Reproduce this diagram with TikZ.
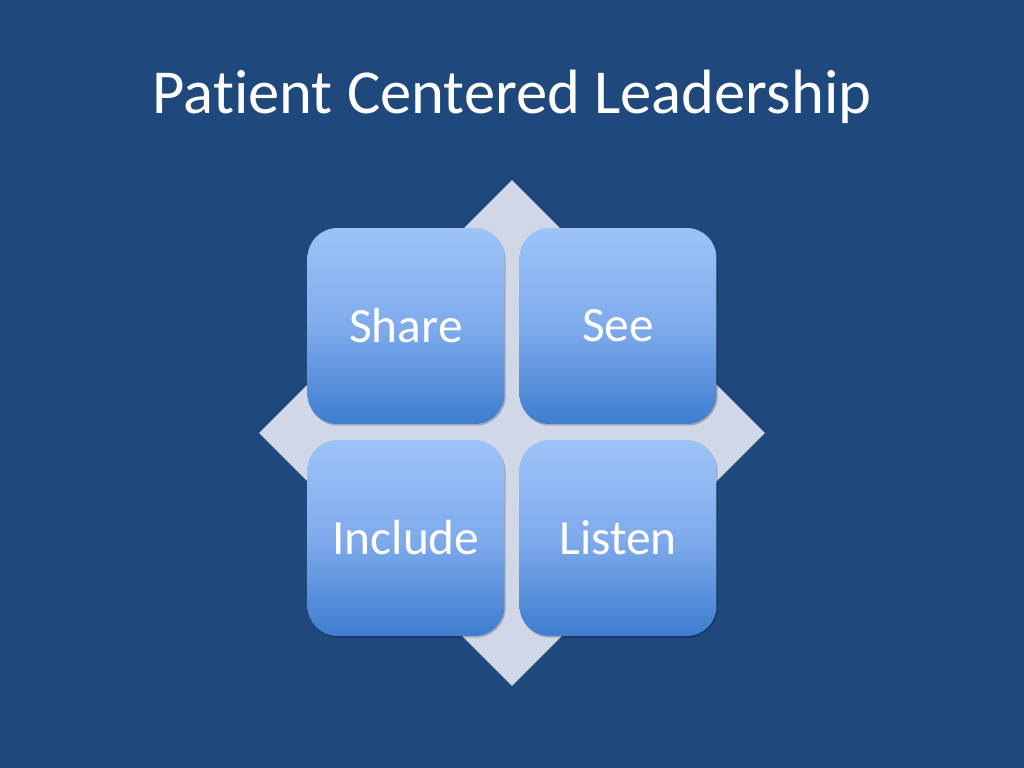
\documentclass[tikz,border=0pt]{standalone}
\usepackage{tikz}
\usepackage{xcolor}
\usepackage{fontspec}
\setmainfont{Carlito}[RawFeature={-liga}]
\usetikzlibrary{shapes.geometric,shadows}
\definecolor{slideColor}{RGB}{31,73,125}
\definecolor{diamondColor}{RGB}{208,216,232}
\definecolor{boxTop}{RGB}{157,195,248}
\definecolor{boxMid}{RGB}{127,171,236}
\definecolor{boxBottom}{RGB}{62,125,207}

\begin{document}
\begin{tikzpicture}[x=0.703125pt, y=-0.703125pt,
    leaf/.style={rounded corners=21pt, minimum width=138.5pt, minimum height=137.8pt, inner sep=0pt,
        top color=boxTop, bottom color=boxBottom, middle color=boxMid, text=white,
        font=\fontsize{34.7}{40}\selectfont,
        drop shadow={shadow xshift=0.8pt, shadow yshift=-1.2pt, opacity=0.22, fill=black}}]
                % slide background
                \fill[slideColor] (0,0) rectangle (1024,768);
                \node[text=white, font=\fontsize{44}{52}\selectfont] (title) at (512,97) {Patient Centered Leadership};
                \node[diamond, fill=diamondColor, inner sep=0pt, minimum width=355.8pt, minimum height=355.8pt] (base) at (512,433) {};
                % four leaves
                \node[leaf] (share) at (406,326) {Share};
                \node[leaf] (see) at (618,326) {See};
                \node[leaf] (include) at (406,538) {Include};
                \node[leaf] (listen) at (618,538) {Listen};
            \end{tikzpicture}
\end{document}
